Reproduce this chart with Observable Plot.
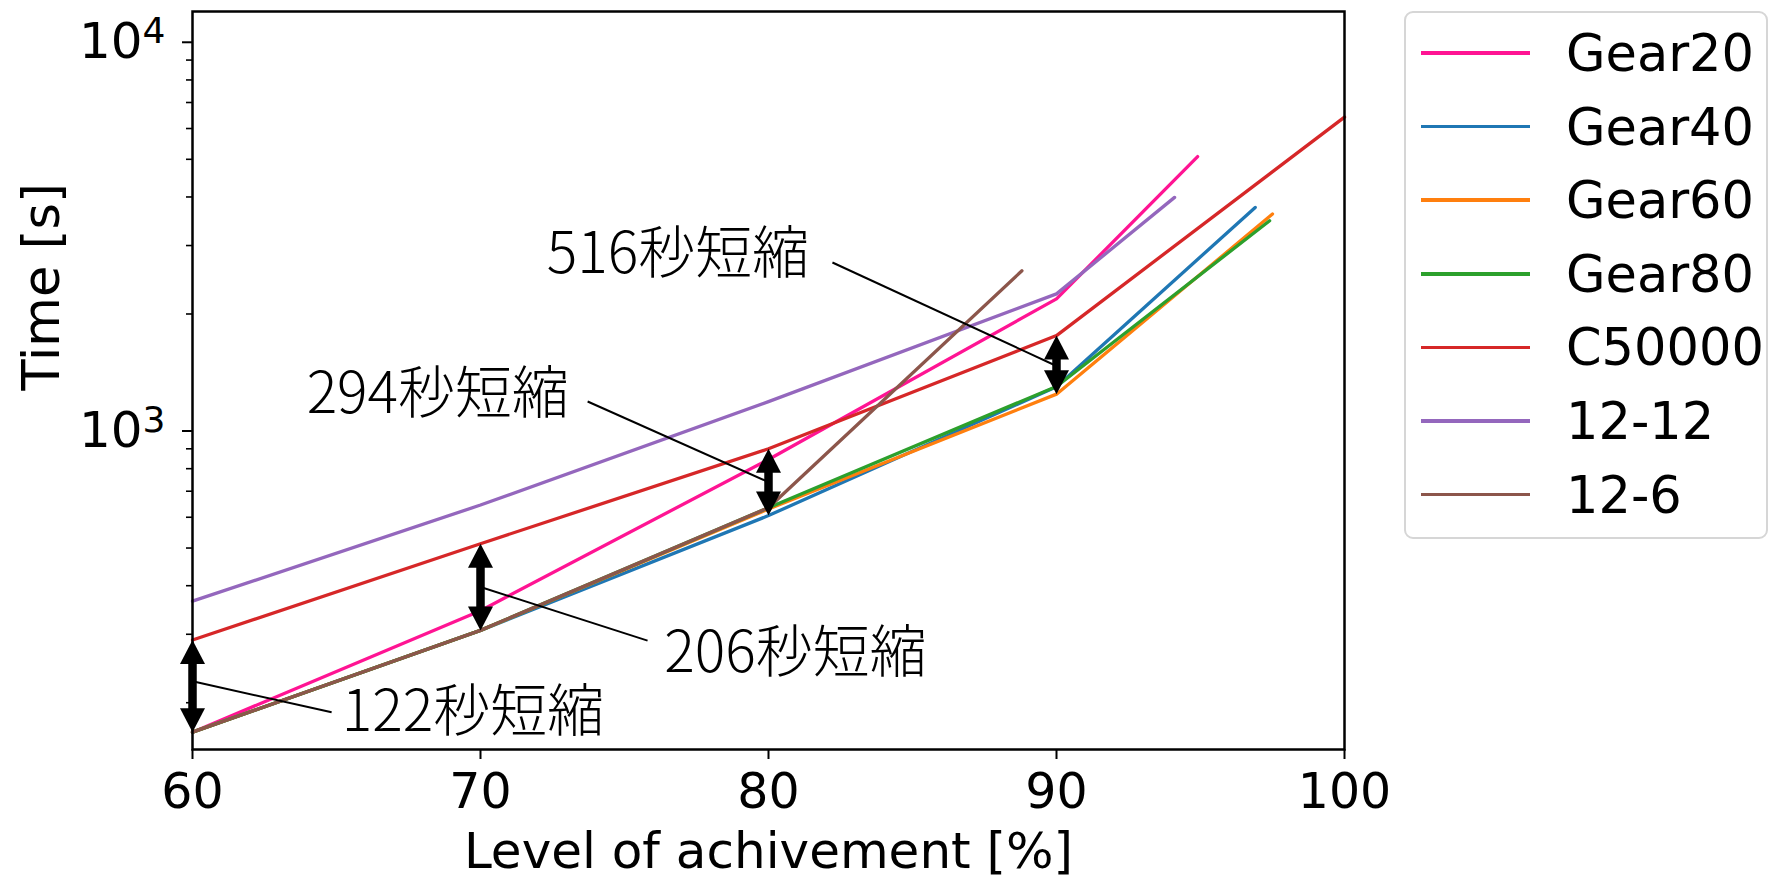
<!DOCTYPE html>
<html><head><meta charset="utf-8">
<script src="https://cdn.jsdelivr.net/npm/d3@7"></script>
<script src="https://cdn.jsdelivr.net/npm/@observablehq/plot@0.6"></script>
<style>
body{margin:0;background:#fff;}
#wrap{position:relative;width:1771px;height:878px;overflow:hidden;}
#legend{position:absolute;left:1404px;top:11px;width:364px;height:528px;border:2.5px solid #d6d6d6;border-radius:9px;box-sizing:border-box;font-family:"DejaVu Sans";font-size:51px;background:#fff;}
.item{position:absolute;left:0;height:0;}
.sw{position:absolute;left:15px;width:109px;height:3.5px;top:-1.75px;}
.lab{position:absolute;left:160px;top:0;transform:translateY(-50%);white-space:nowrap;line-height:1;}
</style></head><body>
<div id="wrap"><div id="chart"></div><div id="legend"></div></div>
<script>
// ---- data ----
const series = ["Gear20", "Gear40", "Gear60", "Gear80", "C50000", "12-12", "12-6"];
const colors = ["#ff1493", "#1f77b4", "#ff7f0e", "#2ca02c", "#d62728", "#9467bd", "#8c564b"];

const gear20X = [60, 70, 80, 90, 94.9];
const gear20Y = [168, 345, 845, 2187, 5080];
const gear40X = [60, 70, 80, 90, 96.9];
const gear40Y = [168, 307, 606, 1300, 3760];
const gear60X = [60, 70, 80, 90, 97.5];
const gear60Y = [168, 307, 630, 1244, 3615];
const gear80X = [60, 70, 80, 90, 97.4];
const gear80Y = [168, 307, 635, 1302, 3475];
const c50000X = [60, 70, 80, 90, 100];
const c50000Y = [290, 513, 900, 1760, 6420];
const s1212X = [60, 70, 80, 90, 94.1];
const s1212Y = [365, 645, 1190, 2253, 3990];
const s126X = [60, 70, 80, 88.8];
const s126Y = [168, 307, 635, 2583];

const seriesX = [gear20X, gear40X, gear60X, gear80X, c50000X, s1212X, s126X];
const seriesY = [gear20Y, gear40Y, gear60Y, gear80Y, c50000Y, s1212Y, s126Y];

const xTicks = [60, 70, 80, 90, 100];
const yMajor = [1000, 10000];
const yMinor = [200, 300, 400, 500, 600, 700, 800, 900, 2000, 3000, 4000, 5000, 6000, 7000, 8000, 9000];

// annotations
const annLabels = ["122秒短縮", "206秒短縮", "294秒短縮", "516秒短縮"];
const annX = [60, 70, 80, 90];
const annLow = [168, 307, 606, 1244];
const annHigh = [290, 513, 900, 1760];
const annMid = [227, 397, 739, 1470];
const annTextX = [69.74, 80.94, 68.52, 76.86];
const annTextY = [188, 267, 1238, 2836];
const annLineX = [64.83, 75.8, 73.72, 82.22];
const annLineY = [189, 289, 1191, 2713];

// ---- build tables ----
const data = [];
series.forEach((s, i) => seriesX[i].forEach((x, j) => data.push({series: s, x, y: seriesY[i][j]})));
const ann = annLabels.map((label, i) => ({
  label, ax: annX[i], low: annLow[i], high: annHigh[i], mid: annMid[i],
  tx: annTextX[i], ty: annTextY[i], lx: annLineX[i], ly: annLineY[i]
}));

// filled arrow head, tip at the origin pointing up
const headUp = {draw(ctx) { ctx.moveTo(0, 0); ctx.lineTo(-12.5, 24); ctx.lineTo(12.5, 24); ctx.closePath(); }};

const chart = Plot.plot({
  width: 1771, height: 878,
  marginLeft: 192, marginRight: 427, marginTop: 11, marginBottom: 129,
  style: {fontFamily: "DejaVu Sans", fontSize: "48px", color: "black", background: "white", overflow: "visible"},
  x: {domain: [60, 100], axis: null},
  y: {type: "log", domain: [151.6, 12000], axis: null},
  color: {domain: series, range: colors},
  marks: [
    Plot.line(data, {x: "x", y: "y", z: "series", stroke: "series", strokeWidth: 3.3}),
    Plot.link(ann, {x1: "lx", y1: "ly", x2: "ax", y2: "mid", stroke: "black", strokeWidth: 2}),
    Plot.ruleX(ann, {x: "ax", y1: "high", y2: "low", stroke: "black", strokeWidth: 8.5, insetTop: 12, insetBottom: 12}),
    Plot.dot(ann, {x: "ax", y: "high", symbol: headUp, fill: "black", stroke: "none"}),
    Plot.dot(ann, {x: "ax", y: "low", symbol: headUp, fill: "black", stroke: "none", rotate: 180}),
    Plot.text(ann, {x: "tx", y: "ty", text: "label", fontFamily: "'Noto Sans CJK JP'", fontWeight: 300, fontSize: 57, fill: "black"}),
    Plot.frame({stroke: "black", strokeWidth: 2.5}),
    Plot.axisX(xTicks, {tickSize: 10, tickPadding: 14, strokeWidth: 2, fontSize: 49, label: null, tickFormat: d => String(d)}),
    Plot.axisY(yMajor, {tickSize: 10, tickPadding: 17, strokeWidth: 2, fontSize: 50, label: null, tickFormat: d => String(Math.round(Math.log10(d)))}),
    Plot.axisY(yMinor, {tickSize: 6, strokeWidth: 1.6, label: null, tickFormat: () => ""}),
    Plot.text(["Level of achivement [%]"], {text: d => d, frameAnchor: "bottom", dy: 118, fontSize: 50}),
    Plot.text(["Time [s]"], {text: d => d, frameAnchor: "left", rotate: -90, dx: -150, dy: 10, fontSize: 51})
  ]
});
document.getElementById("chart").appendChild(chart);

// superscript exponents for the log tick labels (10^n)
chart.querySelectorAll('g[aria-label="y-axis tick label"] text').forEach(t => {
  const e = t.textContent;
  if (!e) return;
  t.textContent = "";
  t.appendChild(document.createTextNode("10"));
  const sup = document.createElementNS("http://www.w3.org/2000/svg", "tspan");
  sup.setAttribute("dy", "-0.42em");
  sup.setAttribute("font-size", "0.72em");
  sup.textContent = e;
  t.appendChild(sup);
});

// legend
const leg = document.getElementById("legend");
series.forEach((s, i) => {
  const it = document.createElement("div");
  it.className = "item";
  it.style.top = (40 + i * 73.6) + "px";
  const sw = document.createElement("div");
  sw.className = "sw"; sw.style.background = colors[i];
  const lab = document.createElement("div");
  lab.className = "lab"; lab.textContent = s;
  it.appendChild(sw); it.appendChild(lab);
  leg.appendChild(it);
});
</script>
</body></html>
